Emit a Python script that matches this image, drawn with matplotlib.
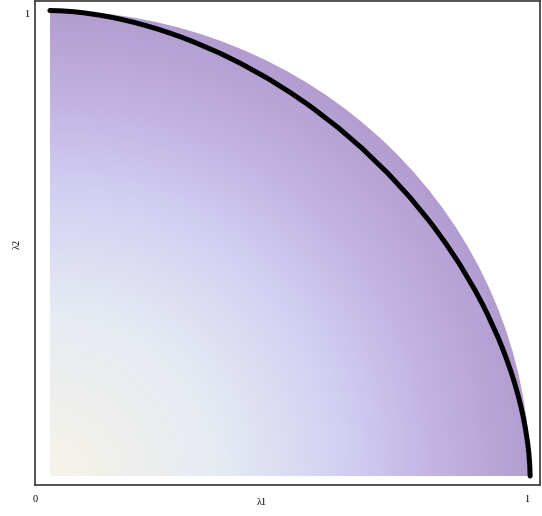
import numpy as np
import matplotlib
matplotlib.use("Agg")
import matplotlib.pyplot as plt
from matplotlib.colors import LinearSegmentedColormap
from matplotlib.patches import Wedge

# Boundary curve
curve_x = [0, 0.025, 0.05, 0.0703, 0.1, 0.125, 0.15, 0.175, 0.2, 0.225, 0.25,
           0.275, 0.3, 0.35, 0.3708, 0.4, 0.45, 0.4602, 0.5, 0.5344, 0.55, 0.6,
           0.65, 0.677,
           0.7041, 0.7486, 0.7884, 0.8, 0.8242, 0.85, 0.8562, 0.8848, 0.9,
           0.9101, 0.9323, 0.9423, 0.9514, 0.9599, 0.9676, 0.9745, 0.9807,
           0.9861, 0.9906, 0.995, 0.9973, 0.9992, 1]
curve_y = [1, 0.9992, 0.9973, 0.995, 0.9906, 0.9861, 0.9807, 0.9745, 0.9676,
           0.9599, 0.9514, 0.9423, 0.9323, 0.9101, 0.9, 0.8848, 0.8562, 0.85,
           0.8242, 0.8, 0.7884, 0.7486, 0.7041, 0.677,
           0.65, 0.6, 0.55, 0.5344, 0.5, 0.4602, 0.45, 0.4, 0.3708, 0.35, 0.3,
           0.275, 0.25, 0.225, 0.2, 0.175, 0.15, 0.125, 0.1, 0.0703, 0.05,
           0.025, 0]

# Gradient colours (by radius)
grad_stops = [0.0, 0.35, 0.6, 0.8, 1.0]
grad_colors = ["#f6f3e9", "#e6ebf2", "#d3d1f3", "#c2b4e2", "#b39dd0"]

x_tick_labels = ["0", "1"]
y_tick_labels = ["1"]
x_label = "λ1"
y_label = "λ2"

fig = plt.figure(figsize=(5.42, 5.16), dpi=100)
ax = fig.add_axes([35/542, 31/516, 505/542, 484/516])

cmap = LinearSegmentedColormap.from_list("grad", list(zip(grad_stops, grad_colors)))
n = 600
gx, gy = np.meshgrid(np.linspace(0, 1, n), np.linspace(0, 1, n))
r = np.sqrt(gx**2 + gy**2)
im = ax.imshow(r, extent=[0, 1, 0, 1], origin="lower", cmap=cmap, vmin=0, vmax=1,
               aspect="auto", interpolation="bilinear", zorder=1)
clip = Wedge((0, 0), 1.0, 0, 90, transform=ax.transData)
im.set_clip_path(clip)

ax.plot(curve_x, curve_y, color="black", lw=3.6, solid_capstyle="round",
        solid_joinstyle="round", zorder=3)

ax.set_xlim(-0.0206, 1.0206)
ax.set_ylim(-0.0193, 1.0204)

ax.set_xticks([-0.031, 0.992])
ax.set_xticklabels(x_tick_labels)
ax.set_yticks([0.9936])
ax.set_yticklabels(y_tick_labels)
ax.tick_params(axis="x", length=0, labelsize=7.5, pad=7)
ax.tick_params(axis="y", length=0, labelsize=7.5, pad=4)
for lab in ax.get_xticklabels() + ax.get_yticklabels():
    lab.set_family("Liberation Serif")

ax.set_xlabel(x_label, family="Liberation Serif", fontsize=7.5)
ax.set_ylabel(y_label, family="Liberation Serif", fontsize=7.5)
ax.xaxis.set_label_coords((262 - 35) / 505, -0.027)
ax.yaxis.set_label_coords(-0.026, 1 - 243 / 484)

for s in ax.spines.values():
    s.set_color("#444444")
    s.set_linewidth(1.3)

fig.savefig("out.png", dpi=100)
